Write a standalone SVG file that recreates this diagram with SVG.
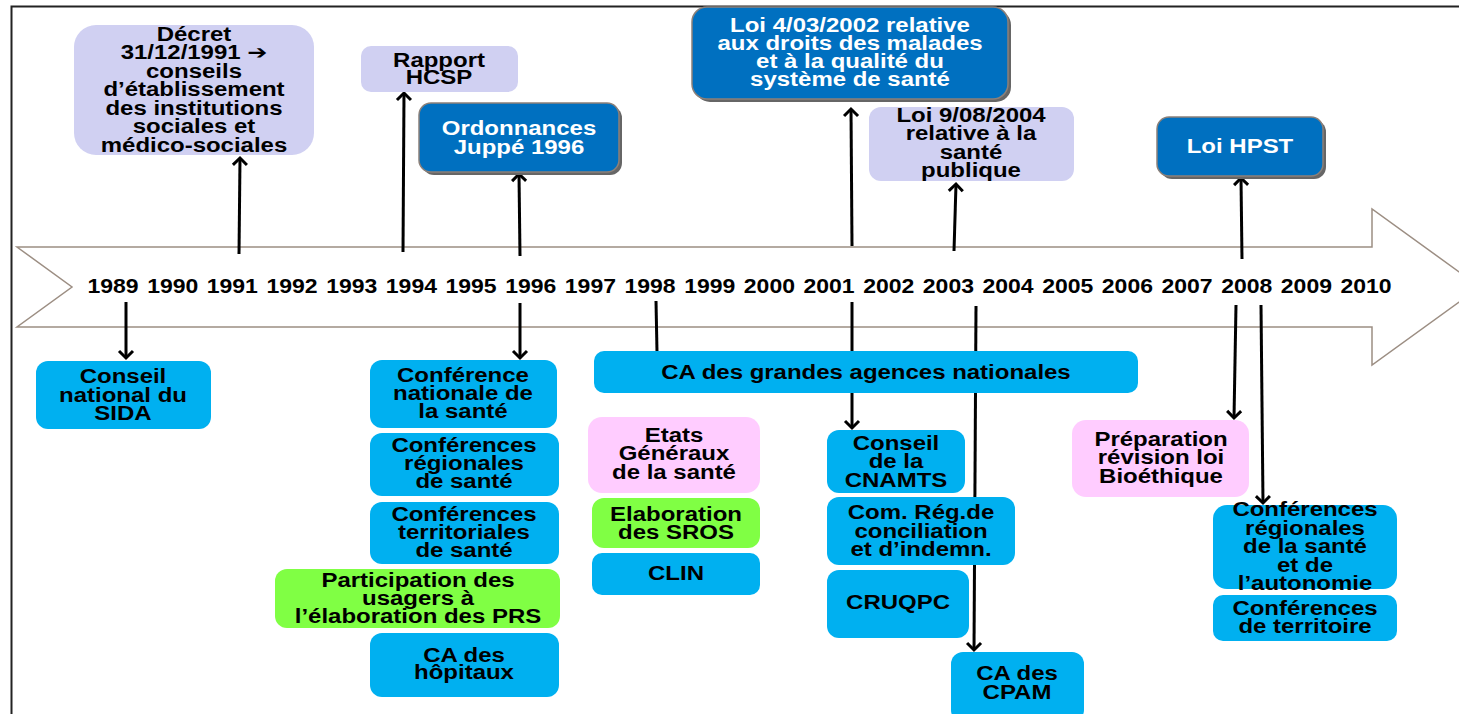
<svg xmlns="http://www.w3.org/2000/svg" width="1459" height="714" viewBox="0 0 1459 714">
<style>
.t{font-family:"Liberation Sans",Arial,"DejaVu Sans",sans-serif;font-weight:bold;font-size:19.5px;text-anchor:middle;fill:#000}
.w{fill:#fff}
.lav{fill:#D0D0F2}
.dk{fill:#0070C0;stroke:#8C8079;stroke-width:1.5}
.sh{fill:#666}
.cy{fill:#00B0F0}
.gr{fill:#80FF44}
.pk{fill:#FFCCFF}
.c{stroke:#000;stroke-width:3;fill:none}
.yr{font-family:"Liberation Sans",Arial,sans-serif;font-weight:bold;font-size:19.5px;text-anchor:middle;fill:#000}
</style>
<defs>
<marker id="arr" markerWidth="20" markerHeight="20" refX="10" refY="10" orient="auto" markerUnits="userSpaceOnUse" viewBox="0 0 20 20">
<path d="M3,3 L10,10 L3,17" fill="none" stroke="#000" stroke-width="3"/>
</marker>
</defs>
<rect width="1459" height="714" fill="#fff"/>
<g id="frame">
<path d="M11.5,714 L11.5,6.5 L1459,6.5" fill="none" stroke="#222" stroke-width="2"/>
</g>
<g id="timeline">
<polygon points="17,247 1372,247 1372,209 1480,287 1372,365 1372,327 17,327 72,287" fill="#fff" stroke="#9C8E83" stroke-width="1.5"/>
<g class="yr">
<text transform="matrix(1.18 0 0 1 113 293)">1989</text>
<text transform="matrix(1.18 0 0 1 172.7 293)">1990</text>
<text transform="matrix(1.18 0 0 1 232.3 293)">1991</text>
<text transform="matrix(1.18 0 0 1 292 293)">1992</text>
<text transform="matrix(1.18 0 0 1 351.7 293)">1993</text>
<text transform="matrix(1.18 0 0 1 411.4 293)">1994</text>
<text transform="matrix(1.18 0 0 1 471 293)">1995</text>
<text transform="matrix(1.18 0 0 1 530.7 293)">1996</text>
<text transform="matrix(1.18 0 0 1 590.4 293)">1997</text>
<text transform="matrix(1.18 0 0 1 650 293)">1998</text>
<text transform="matrix(1.18 0 0 1 709.7 293)">1999</text>
<text transform="matrix(1.18 0 0 1 769.4 293)">2000</text>
<text transform="matrix(1.18 0 0 1 829 293)">2001</text>
<text transform="matrix(1.18 0 0 1 888.7 293)">2002</text>
<text transform="matrix(1.18 0 0 1 948.4 293)">2003</text>
<text transform="matrix(1.18 0 0 1 1008 293)">2004</text>
<text transform="matrix(1.18 0 0 1 1067.7 293)">2005</text>
<text transform="matrix(1.18 0 0 1 1127.4 293)">2006</text>
<text transform="matrix(1.18 0 0 1 1187 293)">2007</text>
<text transform="matrix(1.18 0 0 1 1246.7 293)">2008</text>
<text transform="matrix(1.18 0 0 1 1306.4 293)">2009</text>
<text transform="matrix(1.18 0 0 1 1366 293)">2010</text>
</g>
</g>
<g id="connectors" class="c">
<path d="M239,254 L240,158" marker-end="url(#arr)"/>
<path d="M403,252 L404,93" marker-end="url(#arr)"/>
<path d="M520,256 L519,174" marker-end="url(#arr)"/>
<path d="M852,246 L851,109" marker-end="url(#arr)"/>
<path d="M954,251 L956,184" marker-end="url(#arr)"/>
<path d="M1242,259 L1241,178" marker-end="url(#arr)"/>
<path d="M126,302 L126,358" marker-end="url(#arr)"/>
<path d="M520,303 L520,358" marker-end="url(#arr)"/>
<path d="M656,301 L657,352"/>
<path d="M852,302 L852,428" marker-end="url(#arr)"/>
<path d="M976,306 L974,650" marker-end="url(#arr)"/>
<path d="M1236,305 L1234,418" marker-end="url(#arr)"/>
<path d="M1261,305 L1263,503" marker-end="url(#arr)"/>
</g>
<g id="decret">
<rect class="lav" x="74" y="25" width="240" height="130" rx="22"/>
<text class="t" transform="matrix(1.23 0 0 1 194 0)"><tspan x="0" y="41">Décret</tspan><tspan x="0" y="59.5">31/12/1991 ➔</tspan><tspan x="0" y="78">conseils</tspan><tspan x="0" y="96.5">d’établissement</tspan><tspan x="0" y="115">des institutions</tspan><tspan x="0" y="133.5">sociales et</tspan><tspan x="0" y="152">médico-sociales</tspan></text>
</g>
<g id="rapport">
<rect class="lav" x="361" y="46" width="157" height="46" rx="10"/>
<text class="t" transform="matrix(1.23 0 0 1 439 0)"><tspan x="0" y="67">Rapport</tspan><tspan x="0" y="84">HCSP</tspan></text>
</g>
<g id="ordonnances">
<rect class="sh" x="422" y="106" width="200" height="69" rx="12"/>
<rect class="dk" x="419" y="103" width="200" height="69" rx="12"/>
<text class="t w" transform="matrix(1.23 0 0 1 519 0)"><tspan x="0" y="135.5">Ordonnances</tspan><tspan x="0" y="154">Juppé 1996</tspan></text>
</g>
<g id="loi2002">
<rect class="sh" x="695" y="10" width="316" height="92" rx="15"/>
<rect class="dk" x="692" y="7" width="316" height="92" rx="15"/>
<text class="t w" transform="matrix(1.23 0 0 1 850 0)"><tspan x="0" y="32">Loi 4/03/2002 relative</tspan><tspan x="0" y="50">aux droits des malades</tspan><tspan x="0" y="68">et à la qualité du</tspan><tspan x="0" y="86">système de santé</tspan></text>
</g>
<g id="loi2004">
<rect class="lav" x="869" y="107" width="205" height="74" rx="12"/>
<text class="t" transform="matrix(1.23 0 0 1 971 0)"><tspan x="0" y="122">Loi 9/08/2004</tspan><tspan x="0" y="140.5">relative à la</tspan><tspan x="0" y="159">santé</tspan><tspan x="0" y="177">publique</tspan></text>
</g>
<g id="hpst">
<rect class="sh" x="1160" y="120" width="166" height="59" rx="12"/>
<rect class="dk" x="1157" y="117" width="166" height="59" rx="12"/>
<text class="t w" transform="matrix(1.23 0 0 1 1240 0)"><tspan x="0" y="153">Loi HPST</tspan></text>
</g>
<g id="sida">
<rect class="cy" x="36" y="361" width="175" height="68" rx="12"/>
<text class="t" transform="matrix(1.23 0 0 1 123 0)"><tspan x="0" y="383">Conseil</tspan><tspan x="0" y="402">national du</tspan><tspan x="0" y="420">SIDA</tspan></text>
</g>
<g id="conf-nationale">
<rect class="cy" x="370" y="360" width="187" height="68" rx="12"/>
<text class="t" transform="matrix(1.23 0 0 1 463 0)"><tspan x="0" y="382">Conférence</tspan><tspan x="0" y="400">nationale de</tspan><tspan x="0" y="418">la santé</tspan></text>
</g>
<g id="conf-regionales">
<rect class="cy" x="370" y="433" width="189" height="63" rx="12"/>
<text class="t" transform="matrix(1.23 0 0 1 464 0)"><tspan x="0" y="452">Conférences</tspan><tspan x="0" y="470">régionales</tspan><tspan x="0" y="488">de santé</tspan></text>
</g>
<g id="conf-territoriales">
<rect class="cy" x="370" y="502" width="189" height="62" rx="12"/>
<text class="t" transform="matrix(1.23 0 0 1 464 0)"><tspan x="0" y="521">Conférences</tspan><tspan x="0" y="539">territoriales</tspan><tspan x="0" y="557">de santé</tspan></text>
</g>
<g id="participation">
<rect class="gr" x="275" y="569" width="285" height="59" rx="12"/>
<text class="t" transform="matrix(1.23 0 0 1 418 0)"><tspan x="0" y="587">Participation des</tspan><tspan x="0" y="605">usagers à</tspan><tspan x="0" y="623">l’élaboration des PRS</tspan></text>
</g>
<g id="ca-hopitaux">
<rect class="cy" x="370" y="633" width="189" height="64" rx="12"/>
<text class="t" transform="matrix(1.23 0 0 1 464 0)"><tspan x="0" y="662">CA des</tspan><tspan x="0" y="679">hôpitaux</tspan></text>
</g>
<g id="ca-agences">
<rect class="cy" x="594" y="351" width="544" height="42" rx="10"/>
<text class="t" transform="matrix(1.23 0 0 1 866 0)"><tspan x="0" y="379">CA des grandes agences nationales</tspan></text>
</g>
<g id="etats">
<rect class="pk" x="588" y="417" width="172" height="76" rx="14"/>
<text class="t" transform="matrix(1.23 0 0 1 674 0)"><tspan x="0" y="442">Etats</tspan><tspan x="0" y="460">Généraux</tspan><tspan x="0" y="479">de la santé</tspan></text>
</g>
<g id="sros">
<rect class="gr" x="592" y="498" width="168" height="50" rx="12"/>
<text class="t" transform="matrix(1.23 0 0 1 676 0)"><tspan x="0" y="521">Elaboration</tspan><tspan x="0" y="539">des SROS</tspan></text>
</g>
<g id="clin">
<rect class="cy" x="592" y="553" width="168" height="42" rx="10"/>
<text class="t" transform="matrix(1.23 0 0 1 676 0)"><tspan x="0" y="580">CLIN</tspan></text>
</g>
<g id="cnamts">
<rect class="cy" x="827" y="430" width="138" height="63" rx="12"/>
<text class="t" transform="matrix(1.23 0 0 1 896 0)"><tspan x="0" y="450">Conseil</tspan><tspan x="0" y="468">de la</tspan><tspan x="0" y="487">CNAMTS</tspan></text>
</g>
<g id="com-reg">
<rect class="cy" x="827" y="497" width="188" height="68" rx="12"/>
<text class="t" transform="matrix(1.23 0 0 1 921 0)"><tspan x="0" y="519">Com. Rég.de</tspan><tspan x="0" y="538">conciliation</tspan><tspan x="0" y="556">et d’indemn.</tspan></text>
</g>
<g id="cruqpc">
<rect class="cy" x="827" y="570" width="142" height="68" rx="12"/>
<text class="t" transform="matrix(1.23 0 0 1 898 0)"><tspan x="0" y="609">CRUQPC</tspan></text>
</g>
<g id="cpam">
<rect class="cy" x="951" y="652" width="133" height="70" rx="12"/>
<text class="t" transform="matrix(1.23 0 0 1 1017 0)"><tspan x="0" y="680">CA des</tspan><tspan x="0" y="699">CPAM</tspan></text>
</g>
<g id="bioethique">
<rect class="pk" x="1072" y="420" width="177" height="77" rx="14"/>
<text class="t" transform="matrix(1.23 0 0 1 1161 0)"><tspan x="0" y="446">Préparation</tspan><tspan x="0" y="464">révision loi</tspan><tspan x="0" y="483">Bioéthique</tspan></text>
</g>
<g id="crsa">
<rect class="cy" x="1213" y="505" width="184" height="84" rx="14"/>
<text class="t" transform="matrix(1.23 0 0 1 1305 0)"><tspan x="0" y="516">Conférences</tspan><tspan x="0" y="535">régionales</tspan><tspan x="0" y="553">de la santé</tspan><tspan x="0" y="572">et de</tspan><tspan x="0" y="590">l’autonomie</tspan></text>
</g>
<g id="conf-territoire">
<rect class="cy" x="1213" y="595" width="184" height="46" rx="10"/>
<text class="t" transform="matrix(1.23 0 0 1 1305 0)"><tspan x="0" y="615">Conférences</tspan><tspan x="0" y="633">de territoire</tspan></text>
</g>
</svg>
